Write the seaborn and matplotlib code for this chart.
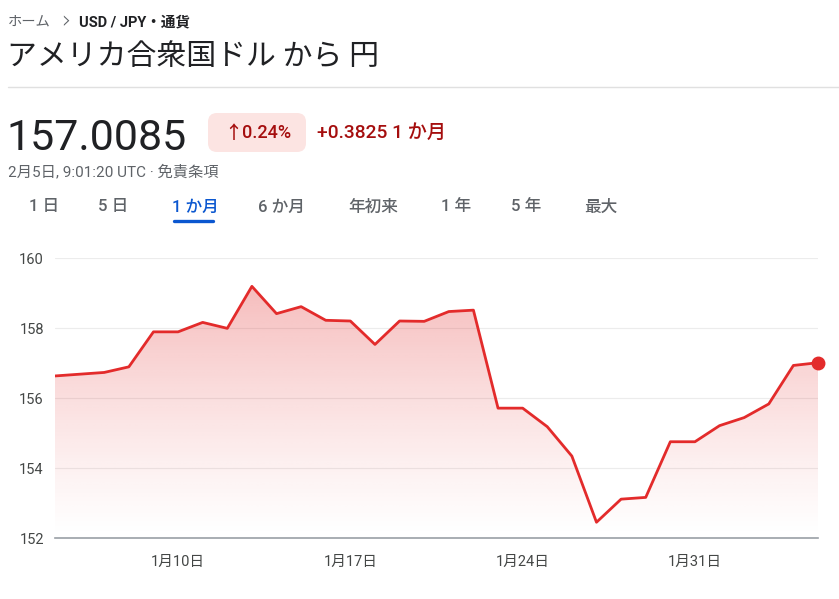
import matplotlib
matplotlib.use('Agg')
import matplotlib.pyplot as plt
import matplotlib.dates as mdates
from matplotlib.patches import FancyBboxPatch, Polygon
import numpy as np
import pandas as pd
import seaborn as sns

# USD/JPY, 1 month
dates = ['2025-01-05', '2025-01-07', '2025-01-08', '2025-01-09', '2025-01-10',
         '2025-01-11', '2025-01-12', '2025-01-13', '2025-01-14', '2025-01-15',
         '2025-01-16', '2025-01-17', '2025-01-18', '2025-01-19', '2025-01-20',
         '2025-01-21', '2025-01-22', '2025-01-23', '2025-01-24', '2025-01-25',
         '2025-01-26', '2025-01-27', '2025-01-28', '2025-01-29', '2025-01-30',
         '2025-01-31', '2025-02-01', '2025-02-02', '2025-02-03', '2025-02-04',
         '2025-02-05']
rates = [156.63, 156.73, 156.89, 157.89, 157.89,
         158.16, 157.99, 159.19, 158.41, 158.61,
         158.22, 158.20, 157.53, 158.20, 158.19,
         158.47, 158.51, 155.71, 155.71, 155.18,
         154.34, 152.45, 153.11, 153.16, 154.75,
         154.75, 155.21, 155.44, 155.83, 156.93,
         157.0085]
ytick_values = [152, 154, 156, 158, 160]
xtick_dates = ['2025-01-10', '2025-01-17', '2025-01-24', '2025-01-31']
xtick_labels = ['1月10日', '1月17日', '1月24日', '1月31日']
tabs = ['1 日', '5 日', '1 か月', '6 か月', '年初来', '1 年', '5 年', '最大']
tab_x = [29, 98, 172, 258, 348, 441, 511, 584]
active_tab = '1 か月'

sns.set_style('white')
plt.rcParams['font.family'] = ['Roboto', 'Noto Sans CJK JP', 'DejaVu Sans']

RED = '#e32b2b'
GRAY = '#5f6368'
DARK = '#202124'

df = pd.DataFrame({'date': pd.to_datetime(dates), 'rate': rates})

fig = plt.figure(figsize=(8.39, 5.99), dpi=100)

# header overlay in pixel coordinates
ov = fig.add_axes([0, 0, 1, 1])
ov.set_xlim(0, 839)
ov.set_ylim(599, 0)
ov.axis('off')

ov.text(8, 22, 'ホーム', fontsize=10.3, color=GRAY, va='center')
ov.text(61, 21, '›', fontsize=17, color=GRAY, va='center',
        family=['DejaVu Sans'], fontweight='light')
ov.text(79, 22, 'USD / JPY・通貨', fontsize=10.5, color=DARK, va='center',
        fontweight='bold')
ov.text(7, 56, 'アメリカ合衆国ドル から 円', fontsize=21.5, color=DARK,
        va='center', family=['Noto Sans CJK JP', 'DejaVu Sans'])
ov.plot([8, 839], [87, 87], color='#e0e0e0', lw=1)

ov.text(6, 150, '157.0085', fontsize=31, color=DARK, va='baseline')
ov.add_patch(FancyBboxPatch((208, 113), 98, 39,
                            boxstyle='round,pad=0,rounding_size=9',
                            facecolor='#fce4e2', edgecolor='none'))
ov.text(258, 138, '↑0.24%', fontsize=13, color='#a50e0e', va='baseline',
        ha='center', fontweight='medium')
ov.text(317, 138, '+0.3825 1 か月', fontsize=13.8, color='#a50e0e',
        va='baseline', fontweight='medium')
ov.text(8, 172, '2月5日, 9:01:20 UTC · 免責条項', fontsize=11, color=GRAY,
        va='center')

for label, x in zip(tabs, tab_x):
    color = '#0b57d0' if label == active_tab else GRAY
    ov.text(x, 207, label, fontsize=12, color=color, va='center',
            fontweight='medium')
ov.plot([174, 213], [221, 221], color='#0b57d0', lw=2.4,
        solid_capstyle='round')

# chart
ax = fig.add_axes([55 / 839, 1 - 538 / 599, (818 - 55) / 839, (538 - 258) / 599])
sns.lineplot(data=df, x='date', y='rate', ax=ax, color=RED, lw=2.0, zorder=4)

xnum = mdates.date2num(df['date'])

# gradient fill under the line
ys = np.linspace(152, 160, 400)
alpha = np.clip(0.0292 * (ys - 152) ** 1.2, 0, 1)
rgba = np.zeros((400, 2, 4))
rgba[..., :3] = matplotlib.colors.to_rgb(RED)
rgba[..., 3] = alpha[:, None]
img = ax.imshow(rgba, extent=[xnum[0], xnum[-1], 152, 160], origin='lower',
                aspect='auto', zorder=2, interpolation='bilinear')
verts = np.vstack([np.column_stack([xnum, rates]),
                   [[xnum[-1], 152], [xnum[0], 152]]])
clip = Polygon(verts, closed=True, transform=ax.transData, facecolor='none',
               edgecolor='none')
ax.add_patch(clip)
img.set_clip_path(clip)
ax.set_xlim(xnum[0], xnum[-1])
ax.set_ylim(152, 160)

ax.plot(xnum[-1], rates[-1], 'o', color=RED, ms=9, clip_on=False, zorder=5)

ax.set_yticks(ytick_values)
ax.set_yticklabels([str(v) for v in ytick_values])
ax.set_xticks(mdates.date2num(pd.to_datetime(xtick_dates)))
ax.set_xticklabels(xtick_labels)
ax.grid(axis='y', color='#ececec', lw=0.8)
ax.grid(axis='x', visible=False)
ax.set_axisbelow(True)
ax.tick_params(axis='y', length=0, pad=8, labelsize=10.5, labelcolor='#444746')
ax.tick_params(axis='x', length=4.5, width=1.5, color=GRAY, pad=8,
               labelsize=10.5, labelcolor='#444746', direction='out')
for s in ['top', 'right', 'left']:
    ax.spines[s].set_visible(False)
ax.spines['bottom'].set_color('#9aa0a6')
ax.spines['bottom'].set_linewidth(1.2)
ax.set_xlabel('')
ax.set_ylabel('')
ax.set_facecolor('none')

fig.savefig('out.png', dpi=100)
